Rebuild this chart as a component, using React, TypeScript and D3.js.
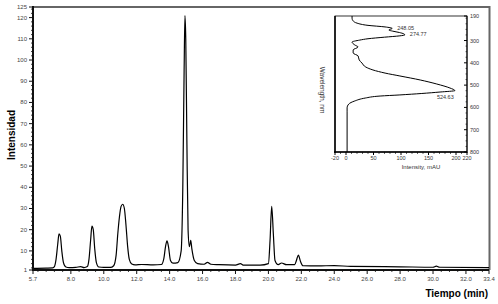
import React from 'react';
import * as d3 from 'd3';

// Chromatogram (time in min, intensity)
const chromTime = [
  5.7, 6.5, 6.9, 7.0, 7.1, 7.2, 7.28, 7.36, 7.45, 7.55, 7.7, 7.9, 8.3, 8.6, 8.8,
  9.0, 9.1, 9.2, 9.28, 9.36, 9.45, 9.55, 9.7, 10.0, 10.4, 10.6, 10.75, 10.85, 10.95,
  11.05, 11.15, 11.25, 11.35, 11.45, 11.55, 11.7, 11.9, 12.3, 13.0, 13.5, 13.65, 13.75,
  13.84, 13.93, 14.05, 14.2, 14.5, 14.7, 14.8, 14.88, 14.93, 14.98, 15.05, 15.12, 15.2,
  15.28, 15.35, 15.5, 15.7, 16.1, 16.3, 16.5, 17.0, 18.0, 18.3, 18.5, 19.5, 20.0, 20.1,
  20.2, 20.3, 20.4, 20.6, 20.8, 21.1, 21.6, 21.7, 21.82, 21.95, 22.1, 23.0, 24.0, 25.0,
  28.0, 30.0, 30.2, 30.4, 33.4,
];
const chromIntensity = [
  1.8, 1.9, 2.0, 2.6, 6, 13, 18, 17, 10, 4.5, 2.4, 2.1, 2.2, 2.6, 2.1,
  2.6, 6, 15, 21.7, 20, 11, 4.5, 2.4, 2.2, 2.2, 3, 8, 18, 26,
  31, 32, 30, 22, 12, 6, 3.8, 3.4, 3.6, 3.4, 3.6, 6.5, 12,
  14.7, 12, 5.5, 4.2, 4.5, 10, 40, 95, 121, 110, 60, 20, 12,
  15, 11, 5.5, 4, 3.7, 4.6, 3.7, 3.5, 3.3, 4, 3.3, 3.3, 4, 15,
  31, 18, 5.5, 3.5, 4.3, 3.5, 3.5, 5.5, 8, 5, 3, 2.9, 3.1, 2.7,
  2.5, 2.3, 2.8, 2.3, 2.1,
];
const xTicks = [5.7, 8, 10, 12, 14, 16, 18, 20, 22, 24, 26, 28, 30, 32, 33.4];
const yTicks = [1, 10, 20, 30, 40, 50, 60, 70, 80, 90, 100, 110, 120, 125];

// Inset UV-Vis spectrum (wavelength nm, intensity mAU)
const specWavelength = [
  190, 200, 212, 222, 232, 239, 246, 250, 253, 258, 264, 270, 274.77, 279, 285, 292,
  298, 307, 320, 329, 342, 356, 369, 387, 401, 419, 432, 446, 459, 477, 495, 513,
  524.63, 531, 544, 549, 558, 571, 585, 602, 620, 800,
];
const specIntensity = [
  11, 11, 13, 20, 40, 71, 84, 80, 78, 85, 97, 105, 107, 98, 70, 40,
  25, 11, 16, 22, 13, 13, 22, 24, 29, 36, 49, 71, 98, 135, 165, 189,
  198, 171, 98, 62, 35, 16, 5, 2, 2, 2,
];
const specXTicks = [-20, 0, 50, 100, 150, 200, 220];
const specYTicks = [190, 300, 400, 500, 600, 700, 800];
const peakLabels = ['248.05', '274.77', '524.63'];
const peakWavelengths = [248.05, 274.77, 524.63];
const peakIntensities = [84, 107, 198];

const FONT = 'Liberation Sans, Arial, sans-serif';

export default function App() {
  const W = 498, H = 304;
  const x = d3.scaleLinear().domain([5.7, 33.4]).range([33, 489]);
  const y = d3.scaleLinear().domain([1, 125]).range([270, 7]);

  const chromData = chromTime.map((t, i) => [t, chromIntensity[i]] as [number, number]);
  const chromLine = d3.line<[number, number]>()
    .x(d => x(d[0])).y(d => y(d[1])).curve(d3.curveMonotoneX)(chromData) || '';

  const yMinor = d3.range(2, 125, 2).filter(v => !yTicks.includes(v));
  const xMinor = d3.range(6, 33.4, 0.5).filter(v => !xTicks.some(t => Math.abs(t - v) < 1e-6));

  // inset
  const sx = d3.scaleLinear().domain([-20, 220]).range([335, 467]);
  const sy = d3.scaleLinear().domain([190, 800]).range([16, 152]);
  const specData = specWavelength.map((w, i) => [specIntensity[i], w] as [number, number]);
  const specLine = d3.line<[number, number]>()
    .x(d => sx(d[0])).y(d => sy(d[1])).curve(d3.curveMonotoneY)(specData) || '';
  const syMinor = d3.range(200, 800, 25).filter(v => !specYTicks.includes(v));
  const sxMinor = d3.range(-10, 220, 10).filter(v => !specXTicks.includes(v));

  return (
    <svg width={W} height={H} style={{ position: 'absolute', left: 0, top: 0, background: '#fff' }}
      fontFamily={FONT}>
      <rect x={0} y={0} width={W} height={H} fill="#fff" />
      {/* frame top & right */}
      <line x1={33} x2={490} y1={7} y2={7} stroke="#666" strokeWidth={2} />
      <line x1={489.5} x2={489.5} y1={6} y2={270} stroke="#666" strokeWidth={2} />

      {/* chromatogram */}
      <path d={chromLine} fill="none" stroke="#000" strokeWidth={1.2} />

      {/* y axis */}
      <line x1={33} x2={33} y1={6} y2={271} stroke="#111" strokeWidth={2} />
      {yTicks.map(v => (
        <g key={'yt' + v}>
          <line x1={29} x2={33} y1={y(v)} y2={y(v)} stroke="#111" strokeWidth={1} />
          <text x={27} y={y(v) + 2} fontSize={6} textAnchor="end" fill="#444">{v}</text>
        </g>
      ))}
      {yMinor.map(v => (
        <line key={'ym' + v} x1={31} x2={33} y1={y(v)} y2={y(v)} stroke="#111" strokeWidth={0.8} />
      ))}
      {/* x axis */}
      <line x1={32} x2={489} y1={270} y2={270} stroke="#111" strokeWidth={2} />
      {xTicks.map(v => (
        <g key={'xt' + v}>
          <line x1={x(v)} x2={x(v)} y1={270} y2={274} stroke="#111" strokeWidth={1} />
          <text x={x(v)} y={281} fontSize={6} textAnchor="middle" fill="#444">{v.toFixed(1)}</text>
        </g>
      ))}
      {xMinor.map(v => (
        <line key={'xm' + v} x1={x(v)} x2={x(v)} y1={270} y2={272} stroke="#111" strokeWidth={0.8} />
      ))}
      <text x={488} y={297} fontSize={10} fontWeight="bold" textAnchor="end" fill="#000">Tiempo (min)</text>
      <text transform="translate(15,135) rotate(-90)" fontSize={10} fontWeight="bold" textAnchor="middle" fill="#000">Intensidad</text>

      {/* inset */}
      <rect x={335} y={16} width={132} height={136} fill="#fff" stroke="#000" strokeWidth={0.8} />
      <path d={specLine} fill="none" stroke="#000" strokeWidth={1} />
      <line x1={335} x2={335} y1={16} y2={153} stroke="#000" strokeWidth={1.5} />
      <line x1={334} x2={467} y1={152} y2={152} stroke="#000" strokeWidth={1.5} />
      <line x1={467} x2={467} y1={16} y2={153} stroke="#000" strokeWidth={1} />
      {specXTicks.map(v => (
        <g key={'sxt' + v}>
          <line x1={sx(v)} x2={sx(v)} y1={152} y2={155} stroke="#000" strokeWidth={1} />
          <text x={sx(v)} y={160} fontSize={5.5} textAnchor="middle" fill="#333">{v}</text>
        </g>
      ))}
      {sxMinor.map(v => (
        <line key={'sxm' + v} x1={sx(v)} x2={sx(v)} y1={152} y2={154} stroke="#000" strokeWidth={0.6} />
      ))}
      {specYTicks.map(v => (
        <g key={'syt' + v}>
          <line x1={464} x2={467} y1={sy(v)} y2={sy(v)} stroke="#000" strokeWidth={1} />
          <text x={470} y={sy(v) + 2} fontSize={5.5} textAnchor="start" fill="#333">{v}</text>
        </g>
      ))}
      {syMinor.map(v => (
        <line key={'sym' + v} x1={465.5} x2={467} y1={sy(v)} y2={sy(v)} stroke="#000" strokeWidth={0.6} />
      ))}
      <text x={421} y={169} fontSize={6} textAnchor="middle" fill="#333">Intensity, mAU</text>
      <text transform="translate(320,90) rotate(90)" fontSize={6.5} textAnchor="middle" fill="#333">Wavelength, nm</text>
      {peakLabels.map((lab, i) => (
        <text key={lab} x={sx(peakIntensities[i]) + (i === 2 ? -18 : 5)} y={sy(peakWavelengths[i]) + (i === 2 ? 8 : 1)}
          fontSize={5.5} fill="#333">{lab}</text>
      ))}
    </svg>
  );
}
